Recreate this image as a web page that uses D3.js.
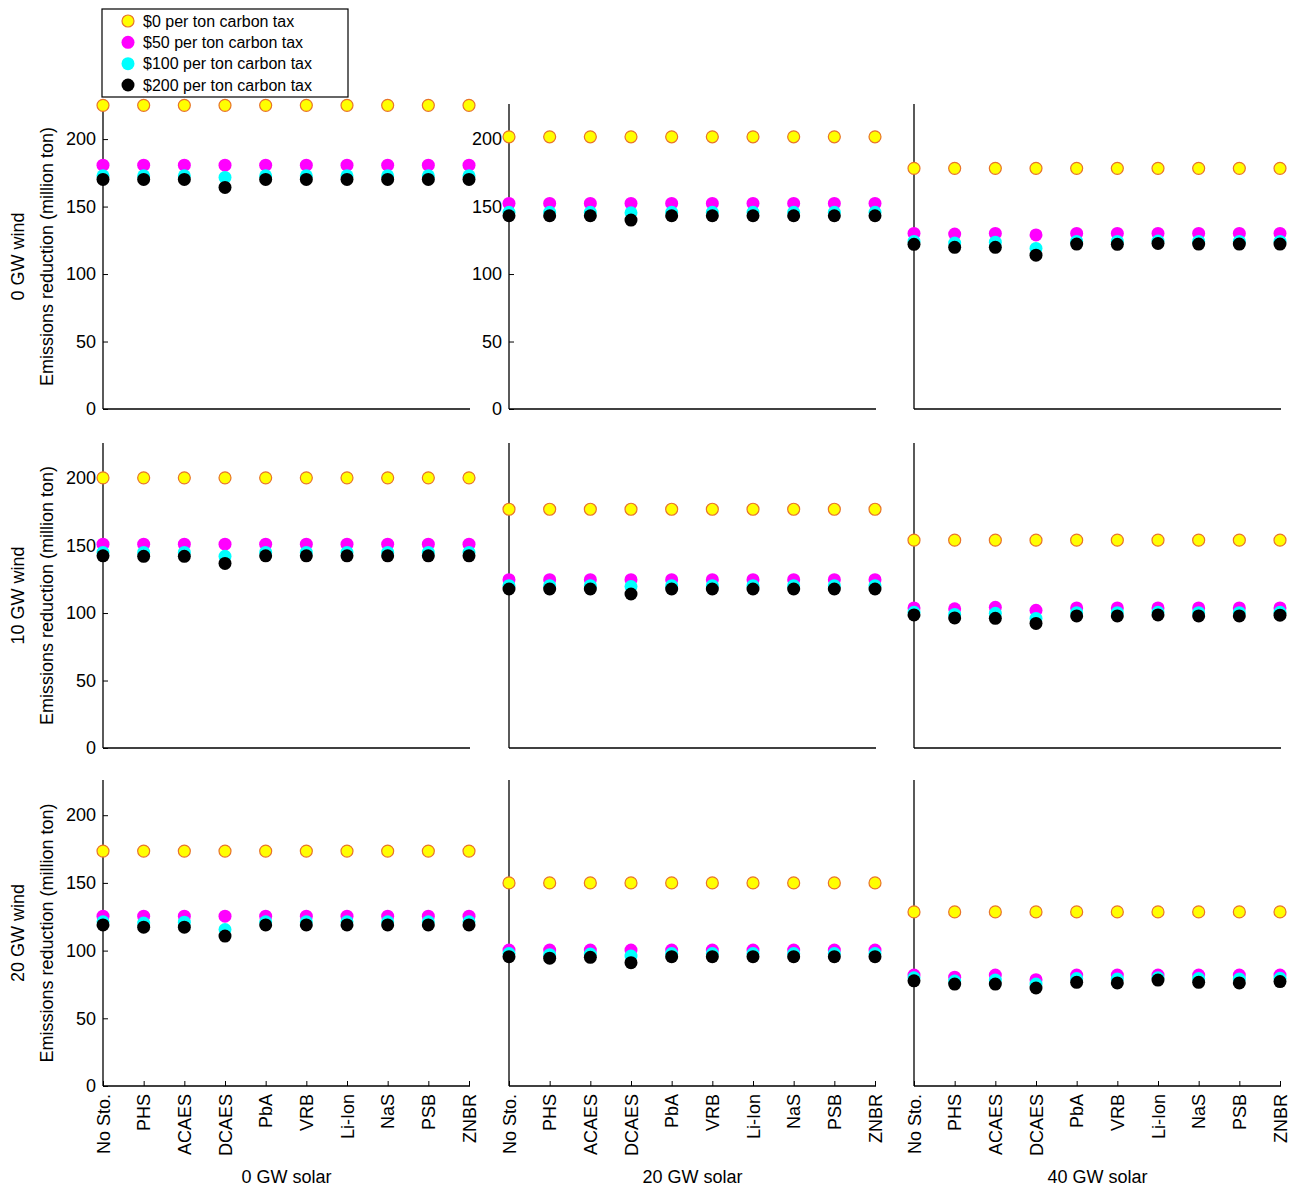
<!DOCTYPE html>
<html>
<head>
<meta charset="utf-8">
<script src="https://cdn.jsdelivr.net/npm/d3@7"></script>
<style>
  body { margin: 0; background: #fff; }
  svg { font-family: "Liberation Sans", Arial, sans-serif; }
</style>
</head>
<body>
<svg id="chart" width="1292" height="1188"></svg>
<script>
// ---- DATA ----
const storage = ["No Sto.", "PHS", "ACAES", "DCAES", "PbA", "VRB", "Li-Ion", "NaS", "PSB", "ZNBR"];
const windLevels = ["0 GW wind", "10 GW wind", "20 GW wind"];
const solarLevels = ["0 GW solar", "20 GW solar", "40 GW solar"];
const taxNames = ["$0 per ton carbon tax", "$50 per ton carbon tax", "$100 per ton carbon tax", "$200 per ton carbon tax"];
const yTicks = [0, 50, 100, 150, 200];

// values[wind][solar] per tax level, one number per storage option
// 0 GW wind
const w0s0_tax0   = [225, 225, 225, 225, 225, 225, 225, 225, 225, 225];
const w0s0_tax50  = [180.7, 180.7, 180.7, 180.7, 180.7, 180.7, 180.7, 180.7, 180.7, 180.7];
const w0s0_tax100 = [172.8, 172.8, 172.8, 171.6, 172.8, 172.8, 172.8, 172.8, 172.8, 172.8];
const w0s0_tax200 = [170.1, 170.1, 170.1, 164.2, 170.1, 170.1, 170.1, 170.1, 170.1, 170.1];

const w0s20_tax0   = [201.7, 201.7, 201.7, 201.7, 201.7, 201.7, 201.7, 201.7, 201.7, 201.7];
const w0s20_tax50  = [152.3, 152.3, 152.3, 152.3, 152.3, 152.3, 152.3, 152.3, 152.3, 152.3];
const w0s20_tax100 = [145.8, 145.8, 145.8, 145.4, 145.8, 145.8, 145.8, 145.8, 145.8, 145.8];
const w0s20_tax200 = [143.2, 143.2, 143.2, 140.0, 143.2, 143.2, 143.2, 143.2, 143.2, 143.2];

const w0s40_tax0   = [178.3, 178.3, 178.3, 178.3, 178.3, 178.3, 178.3, 178.3, 178.3, 178.3];
const w0s40_tax50  = [130.1, 129.6, 130.1, 129.0, 130.1, 130.1, 130.1, 130.1, 130.1, 130.1];
const w0s40_tax100 = [124.2, 123.0, 123.6, 119.0, 124.2, 124.2, 124.5, 124.2, 124.2, 124.2];
const w0s40_tax200 = [122.0, 119.8, 119.8, 114.0, 122.2, 122.0, 122.7, 122.2, 122.2, 122.2];

// 10 GW wind
const w10s0_tax0   = [200.2, 200.2, 200.2, 200.2, 200.2, 200.2, 200.2, 200.2, 200.2, 200.2];
const w10s0_tax50  = [151.0, 151.0, 151.0, 151.0, 151.0, 151.0, 151.0, 151.0, 151.0, 151.0];
const w10s0_tax100 = [144.9, 144.9, 144.9, 142.0, 144.9, 144.9, 144.9, 144.9, 144.9, 144.9];
const w10s0_tax200 = [142.4, 142.0, 142.0, 136.8, 142.4, 142.4, 142.4, 142.4, 142.4, 142.4];

const w10s20_tax0   = [176.9, 176.9, 176.9, 176.9, 176.9, 176.9, 176.9, 176.9, 176.9, 176.9];
const w10s20_tax50  = [124.7, 124.7, 124.7, 124.7, 124.7, 124.7, 124.7, 124.7, 124.7, 124.7];
const w10s20_tax100 = [120.3, 120.3, 120.3, 119.6, 120.3, 120.3, 120.3, 120.3, 120.3, 120.3];
const w10s20_tax200 = [117.8, 117.8, 117.8, 114.1, 117.8, 117.8, 117.8, 117.8, 117.8, 117.8];

const w10s40_tax0   = [154.0, 154.0, 154.0, 154.0, 154.0, 154.0, 154.0, 154.0, 154.0, 154.0];
const w10s40_tax50  = [103.8, 103.1, 104.3, 102.0, 103.8, 103.8, 103.8, 103.8, 103.8, 103.8];
const w10s40_tax100 = [100.6, 99.0, 99.8, 96.0, 100.3, 100.3, 100.6, 100.3, 100.3, 100.6];
const w10s40_tax200 = [98.6, 96.4, 96.1, 92.3, 97.9, 97.9, 98.6, 97.9, 97.9, 98.4];

// 20 GW wind
const w20s0_tax0   = [173.5, 173.5, 173.5, 173.5, 173.5, 173.5, 173.5, 173.5, 173.5, 173.5];
const w20s0_tax50  = [125.4, 125.4, 125.4, 125.4, 125.4, 125.4, 125.4, 125.4, 125.4, 125.4];
const w20s0_tax100 = [121.3, 120.3, 121.0, 115.6, 121.3, 121.3, 121.3, 121.3, 121.3, 121.3];
const w20s0_tax200 = [119.0, 117.3, 117.3, 110.7, 119.0, 119.0, 119.0, 119.0, 119.0, 119.0];

const w20s20_tax0   = [150.0, 150.0, 150.0, 150.0, 150.0, 150.0, 150.0, 150.0, 150.0, 150.0];
const w20s20_tax50  = [100.4, 100.4, 100.4, 100.4, 100.4, 100.4, 100.4, 100.4, 100.4, 100.4];
const w20s20_tax100 = [97.8, 97.0, 97.4, 96.0, 97.8, 97.8, 97.8, 97.8, 97.8, 97.8];
const w20s20_tax200 = [95.5, 94.4, 95.0, 91.1, 95.5, 95.5, 95.5, 95.5, 95.5, 95.5];

const w20s40_tax0   = [128.6, 128.6, 128.6, 128.6, 128.6, 128.6, 128.6, 128.6, 128.6, 128.6];
const w20s40_tax50  = [81.9, 80.4, 81.9, 78.5, 81.9, 81.9, 81.9, 81.9, 81.9, 81.9];
const w20s40_tax100 = [79.9, 77.5, 78.2, 75.3, 79.4, 79.0, 79.9, 79.4, 79.0, 79.6];
const w20s40_tax200 = [77.7, 75.3, 75.3, 72.4, 76.6, 76.1, 78.2, 76.6, 76.1, 77.1];

const values = [
  [[w0s0_tax0, w0s0_tax50, w0s0_tax100, w0s0_tax200],
   [w0s20_tax0, w0s20_tax50, w0s20_tax100, w0s20_tax200],
   [w0s40_tax0, w0s40_tax50, w0s40_tax100, w0s40_tax200]],
  [[w10s0_tax0, w10s0_tax50, w10s0_tax100, w10s0_tax200],
   [w10s20_tax0, w10s20_tax50, w10s20_tax100, w10s20_tax200],
   [w10s40_tax0, w10s40_tax50, w10s40_tax100, w10s40_tax200]],
  [[w20s0_tax0, w20s0_tax50, w20s0_tax100, w20s0_tax200],
   [w20s20_tax0, w20s20_tax50, w20s20_tax100, w20s20_tax200],
   [w20s40_tax0, w20s40_tax50, w20s40_tax100, w20s40_tax200]]
];

// ---- STYLE / LAYOUT ----
const fills = ["#ffff00", "#ff00ff", "#00ffff", "#000000"];
const strokes = ["#e8742a", "none", "none", "none"];
const colX = [[103, 470], [509, 876], [914, 1281]];
const rowY = [[409, 104], [748, 443], [1086, 780]];
const yMax = 226;
const R = 6.5;
const FS = 18;

const svg = d3.select("#chart");

for (let r = 0; r < 3; r++) {
  for (let c = 0; c < 3; c++) {
    const x = d3.scalePoint().domain(storage).range([colX[c][0], colX[c][1] - 1]);
    const y = d3.scaleLinear().domain([0, yMax]).range(rowY[r]);
    const g = svg.append("g");

    // axes lines
    const axisColor = "#000";
    g.append("line").attr("x1", colX[c][0]).attr("x2", colX[c][0])
      .attr("y1", rowY[r][0]).attr("y2", rowY[r][1])
      .attr("stroke", axisColor).attr("stroke-width", 1.3);
    g.append("line").attr("x1", colX[c][0]).attr("x2", colX[c][1])
      .attr("y1", rowY[r][0]).attr("y2", rowY[r][0])
      .attr("stroke", axisColor).attr("stroke-width", 1.3);

    // y ticks & labels: first column and top-middle panel
    if (c === 0 || (r === 0 && c === 1)) {
      const ya = d3.axisLeft(y).tickValues(yTicks).tickSizeInner(-5).tickSizeOuter(0).tickPadding(7);
      const ag = g.append("g").attr("transform", `translate(${colX[c][0]},0)`).call(ya);
      ag.select(".domain").remove();
      ag.selectAll("line").attr("stroke", "#000").attr("stroke-width", 1);
      ag.selectAll("text").attr("font-size", FS).attr("fill", "#000")
        .attr("font-family", "'Liberation Sans', Arial, sans-serif");
    }

    // x ticks & labels: bottom row only
    if (r === 2) {
      const xa = d3.axisBottom(x).tickSizeInner(-5).tickSizeOuter(0).tickPadding(8);
      const ag = g.append("g").attr("transform", `translate(0,${rowY[r][0]})`).call(xa);
      ag.select(".domain").remove();
      ag.selectAll("line").attr("stroke", "#000").attr("stroke-width", 1);
      ag.selectAll("text").attr("font-size", FS).attr("fill", "#000")
        .attr("font-family", "'Liberation Sans', Arial, sans-serif")
        .attr("transform", "rotate(-90)")
        .attr("text-anchor", "end")
        .attr("x", -8).attr("y", 0).attr("dy", "0.35em");
    }

    // points
    for (let t = 0; t < 4; t++) {
      g.append("g").selectAll("circle")
        .data(values[r][c][t])
        .join("circle")
        .attr("cx", (d, i) => x(storage[i]))
        .attr("cy", d => y(d))
        .attr("r", t === 0 ? R - 0.5 : R)
        .attr("fill", fills[t])
        .attr("stroke", strokes[t])
        .attr("stroke-width", t === 0 ? 1.2 : 0);
    }
  }
}

// row labels
for (let r = 0; r < 3; r++) {
  const cy = (rowY[r][0] + rowY[r][1]) / 2;
  svg.append("text").attr("transform", `translate(19,${cy}) rotate(-90)`)
    .attr("text-anchor", "middle").attr("dominant-baseline", "middle")
    .attr("font-size", FS).text(windLevels[r]);
  svg.append("text").attr("transform", `translate(48,${cy}) rotate(-90)`)
    .attr("text-anchor", "middle").attr("dominant-baseline", "middle")
    .attr("font-size", FS).text("Emissions reduction (million ton)");
}

// column titles
for (let c = 0; c < 3; c++) {
  svg.append("text").attr("x", (colX[c][0] + colX[c][1]) / 2).attr("y", 1183)
    .attr("text-anchor", "middle").attr("font-size", FS).text(solarLevels[c]);
}

// legend
const lg = svg.append("g");
lg.append("rect").attr("x", 102).attr("y", 9).attr("width", 246).attr("height", 88)
  .attr("fill", "#fff").attr("stroke", "#000").attr("stroke-width", 1.2);
const legY = d3.scalePoint().domain(taxNames).range([21, 85]);
taxNames.forEach((n, t) => {
  lg.append("circle").attr("cx", 128).attr("cy", legY(n)).attr("r", t === 0 ? R - 0.5 : R)
    .attr("fill", fills[t]).attr("stroke", strokes[t]).attr("stroke-width", t === 0 ? 1.2 : 0);
  lg.append("text").attr("x", 143).attr("y", legY(n)).attr("dy", "0.35em")
    .attr("font-size", 16).text(n);
});
</script>
</body>
</html>
